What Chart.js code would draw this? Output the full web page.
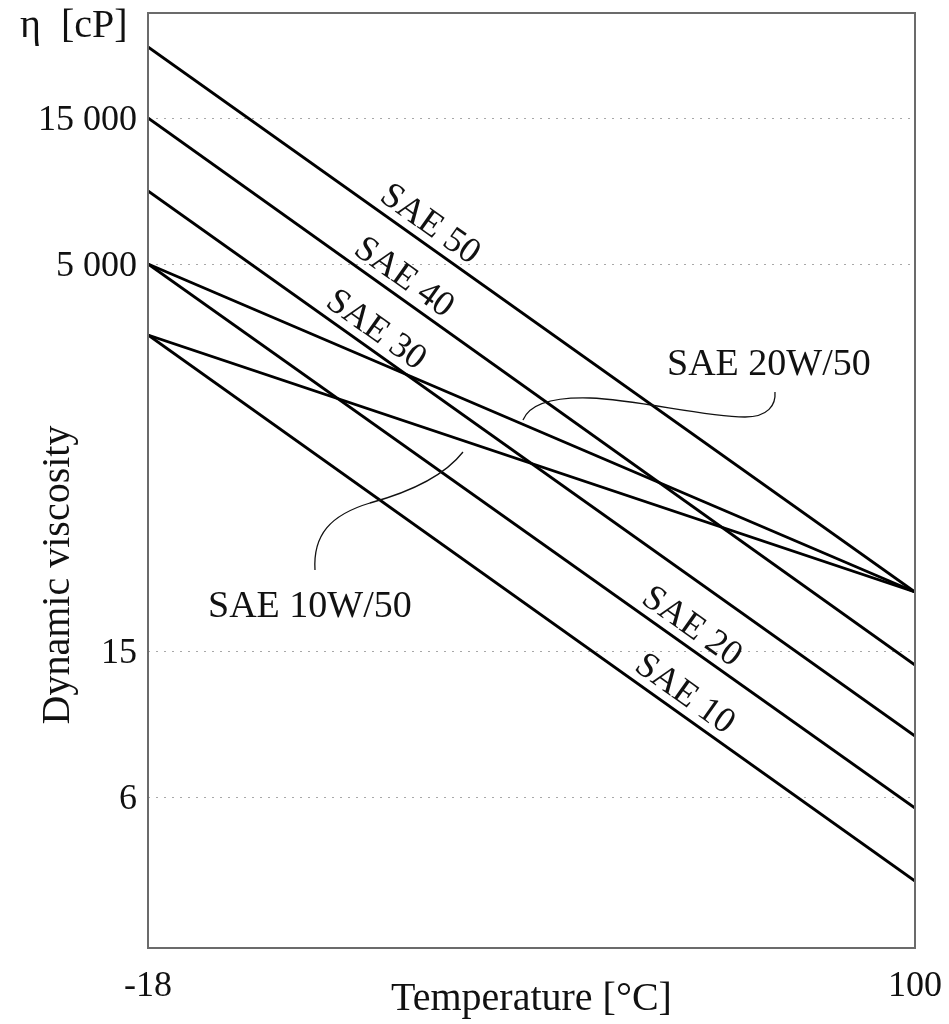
<!DOCTYPE html>
<html><head><meta charset="utf-8">
<script src="https://cdn.jsdelivr.net/npm/chart.js@4.4.1/dist/chart.umd.min.js"></script>
<style>html,body{margin:0;padding:0;background:#fff}#wrap{width:949px;height:1024px}</style>
</head><body><div id="wrap"><canvas id="c" width="949" height="1024"></canvas></div>
<script>
// Temperatures (°C) at the two ends of every line
const temperatures = [-18, 100];
// Viscosity lines, y in schematic chart-position units (the axis is not a true scale)
const sae50 = [90.1, 35.6];
const sae40 = [83.0, 28.3];
const sae30 = [75.7, 21.2];
const sae20 = [68.4, 14.0];
const sae10 = [61.3, 6.7];
const sae20w50 = [68.4, 35.6];
const sae10w50 = [61.3, 35.6];
const seriesNames = ['SAE 50', 'SAE 40', 'SAE 30', 'SAE 20', 'SAE 10', 'SAE 20W/50', 'SAE 10W/50'];
const seriesValues = [sae50, sae40, sae30, sae20, sae10, sae20w50, sae10w50];
// Y tick positions and their labels (cP)
const yTickPositions = [83.0, 68.4, 29.7, 15.1];
const yTickLabels = ['15 000', '5 000', '15', '6'];
// X ticks
const xTickValues = [-18, 100];
const xTickLabels = ['-18', '100'];

const FONT = "'Liberation Serif', 'Times New Roman', serif";

// Rotated labels along lines: [series index, temperature of anchor]
const lineLabels = [[0, 23.7], [1, 19.7], [2, 15.4], [3, 64.0], [4, 62.9]];
// Callout labels with leader curves (positions in data units)
const callouts = [
  { text: 'SAE 20W/50', at: [61.85, 57.3],
    path: [[78.46,55.6],[78.62,54.3],[77.39,53.1],[73.85,53.1],[66.92,53.2],[57.69,54.8],[50.0,55.0],[44.62,55.1],[40.77,54.5],[39.69,52.8]] },
  { text: 'SAE 10W/50', at: [-8.77, 33.1],
    path: [[7.69,37.8],[7.38,41.3],[10.0,43.3],[16.15,44.5],[22.31,45.6],[27.69,47.3],[30.46,49.6]] }
];

const annotate = {
  id: 'annotate',
  afterDatasetsDraw(chart) {
    const ctx = chart.ctx, xs = chart.scales.x, ys = chart.scales.y, a = chart.chartArea;
    const X = v => xs.getPixelForValue(v), Y = v => ys.getPixelForValue(v);
    ctx.save();
    // frame
    ctx.strokeStyle = '#6b6b6b'; ctx.lineWidth = 2;
    ctx.strokeRect(a.left, a.top, a.right - a.left, a.bottom - a.top);
    ctx.fillStyle = '#111';
    // rotated line labels
    ctx.font = '36px ' + FONT;
    ctx.textAlign = 'center'; ctx.textBaseline = 'alphabetic';
    lineLabels.forEach(([si, t]) => {
      const v = seriesValues[si];
      const x1 = X(temperatures[0]), y1 = Y(v[0]), x2 = X(temperatures[1]), y2 = Y(v[1]);
      const ang = Math.atan2(y2 - y1, x2 - x1);
      const px = X(t), pyv = y1 + (px - x1) * (y2 - y1) / (x2 - x1);
      ctx.save(); ctx.translate(px, pyv); ctx.rotate(ang);
      ctx.fillText(seriesNames[si], 0, -9);
      ctx.restore();
    });
    // callouts
    ctx.textAlign = 'left';
    ctx.font = '38px ' + FONT;
    callouts.forEach(c => {
      ctx.fillText(c.text, X(c.at[0]), Y(c.at[1]));
      const p = c.path;
      ctx.beginPath(); ctx.lineWidth = 1.3; ctx.strokeStyle = '#111';
      ctx.moveTo(X(p[0][0]), Y(p[0][1]));
      for (let i = 1; i + 2 < p.length; i += 3) {
        ctx.bezierCurveTo(X(p[i][0]), Y(p[i][1]), X(p[i+1][0]), Y(p[i+1][1]), X(p[i+2][0]), Y(p[i+2][1]));
      }
      ctx.stroke();
    });
    // y-axis title
    ctx.font = '40px ' + FONT;
    ctx.save(); ctx.translate(69, 575); ctx.rotate(-Math.PI / 2);
    ctx.textAlign = 'center'; ctx.textBaseline = 'alphabetic';
    ctx.fillText('Dynamic viscosity', 0, 0);
    ctx.restore();
    // unit label
    ctx.font = '40px ' + FONT; ctx.textAlign = 'left';
    ctx.fillText('η  [cP]', 20, 37);
    ctx.restore();
  }
};

new Chart(document.getElementById('c'), {
  type: 'line',
  data: {
    datasets: seriesValues.map((vals, i) => ({
      label: seriesNames[i],
      data: temperatures.map((t, j) => ({ x: t, y: vals[j] })),
      borderColor: '#000', borderWidth: 2.8, pointRadius: 0, fill: false, tension: 0
    }))
  },
  options: {
    responsive: false, animation: false, devicePixelRatio: 1,
    layout: { padding: { top: 13, right: 34, left: 0, bottom: 0 } },
    plugins: { legend: { display: false }, tooltip: { enabled: false } },
    scales: {
      x: {
        type: 'linear', min: -18, max: 100,
        afterBuildTicks: s => { s.ticks = xTickValues.map(v => ({ value: v })); },
        afterFit: s => { s.height = 76; s.paddingLeft = 0; s.paddingRight = 0; },
        ticks: { callback: v => xTickLabels[xTickValues.indexOf(v)], font: { family: FONT, size: 36 }, color: '#111', padding: 17, maxRotation: 0, autoSkip: false },
        grid: { display: false, drawTicks: false },
        border: { display: false },
        title: { display: true, text: 'Temperature [°C]', font: { family: FONT, size: 40 }, color: '#111', padding: { top: 0, bottom: 1 } }
      },
      y: {
        type: 'linear', min: 0, max: 93.5,
        afterBuildTicks: s => { s.ticks = yTickPositions.map(v => ({ value: v })); },
        afterFit: s => { s.width = 148; s.paddingTop = 0; s.paddingBottom = 0; },
        ticks: { callback: v => yTickLabels[yTickPositions.indexOf(v)], font: { family: FONT, size: 36 }, color: '#111', padding: 11, autoSkip: false, labelOffset: 3 },
        grid: { color: '#a8a8a8', lineWidth: 1, drawTicks: false },
        border: { display: false, dash: [2, 6] }
      }
    }
  },
  plugins: [annotate]
});
</script></body></html>
